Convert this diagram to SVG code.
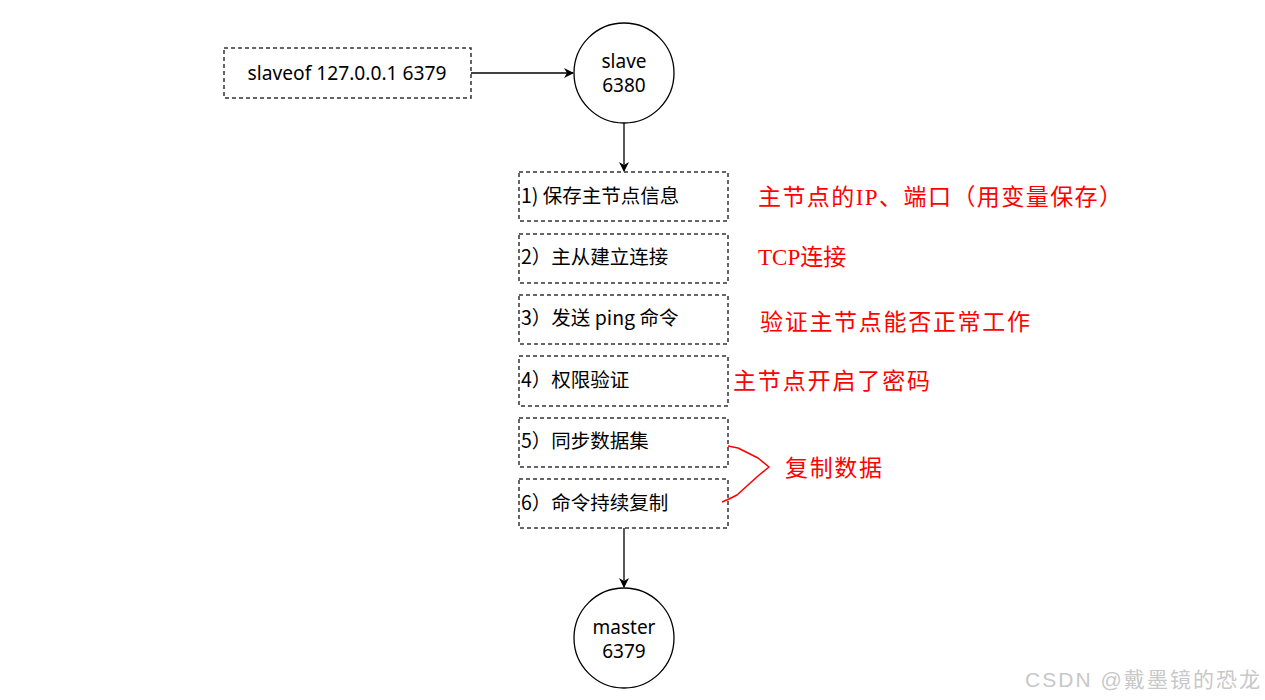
<svg xmlns="http://www.w3.org/2000/svg" width="1265" height="700" viewBox="0 0 1265 700">
<style>
.box{fill:#fff;stroke:#333;stroke-width:1.5;stroke-dasharray:4 3}
.circ{fill:#fff;stroke:#000;stroke-width:1.3}
.t{font-family:"Noto Sans CJK SC","Noto Sans",sans-serif;font-size:19.5px;fill:#000}
.n{font-family:"Noto Sans",sans-serif;font-size:19px;fill:#000;text-anchor:middle}
.r{font-family:"Liberation Serif","Noto Sans CJK SC",serif;font-size:23px;fill:#f00}
.conn{stroke:#000;stroke-width:1.3;fill:none}
.wm{font-family:"Liberation Sans","Noto Sans CJK SC",sans-serif;font-size:21px;fill:#c8c8c8}
</style>
<defs>
<marker id="arr" viewBox="0 0 10 10" refX="9" refY="5" markerWidth="10" markerHeight="10" markerUnits="userSpaceOnUse" orient="auto">
<path d="M0,0 L10,5 L0,10 L3,5 Z" fill="#000"/>
</marker>
</defs>
<rect width="1265" height="700" fill="#fff"/>
<g id="connectors">
<line class="conn" x1="471" y1="73" x2="573" y2="73" marker-end="url(#arr)"/>
<line class="conn" x1="624" y1="123" x2="624" y2="171" marker-end="url(#arr)"/>
<line class="conn" x1="624" y1="528" x2="624" y2="587" marker-end="url(#arr)"/>
</g>
<g id="cmd">
<rect class="box" x="224" y="48" width="247" height="50"/>
<text class="n" x="347" y="80" textLength="199" lengthAdjust="spacingAndGlyphs">slaveof 127.0.0.1 6379</text>
</g>
<g id="slave">
<circle class="circ" cx="624" cy="73" r="50"/>
<text class="n" x="624" y="68">slave</text>
<text class="n" x="624" y="92">6380</text>
</g>
<g id="step1">
<rect class="box" x="519" y="172" width="209" height="49"/>
<text class="t" x="521" y="203">1) 保存主节点信息</text>
</g>
<g id="step2">
<rect class="box" x="519" y="234" width="209" height="49"/>
<text class="t" x="521" y="264">2）主从建立连接</text>
</g>
<g id="step3">
<rect class="box" x="519" y="295" width="209" height="49"/>
<text class="t" x="521" y="325">3）发送 ping 命令</text>
</g>
<g id="step4">
<rect class="box" x="519" y="356" width="209" height="50"/>
<text class="t" x="521" y="387">4）权限验证</text>
</g>
<g id="step5">
<rect class="box" x="519" y="418" width="209" height="49"/>
<text class="t" x="521" y="448">5）同步数据集</text>
</g>
<g id="step6">
<rect class="box" x="519" y="479" width="209" height="49"/>
<text class="t" x="521" y="510">6）命令持续复制</text>
</g>
<g id="master">
<circle class="circ" cx="624" cy="638" r="50"/>
<text class="n" x="624" y="634">master</text>
<text class="n" x="624" y="658">6379</text>
</g>
<g id="notes">
<text class="r" x="758" y="205" textLength="364" lengthAdjust="spacing">主节点的IP、端口（用变量保存）</text>
<text class="r" x="758" y="265">TCP连接</text>
<text class="r" x="760" y="330" textLength="270" lengthAdjust="spacing">验证主节点能否正常工作</text>
<text class="r" x="733" y="389" textLength="197" lengthAdjust="spacing">主节点开启了密码</text>
<text class="r" x="785" y="476" textLength="97" lengthAdjust="spacing">复制数据</text>
<polyline points="728,446 738,448 748,453 758,458 769,467 758,476 748,485 737,495 729,499 722,502" fill="none" stroke="#f00" stroke-width="1.6" stroke-linejoin="round"/>
</g>
<text class="wm" x="1025" y="687" textLength="235" lengthAdjust="spacing">CSDN @戴墨镜的恐龙</text>
</svg>
